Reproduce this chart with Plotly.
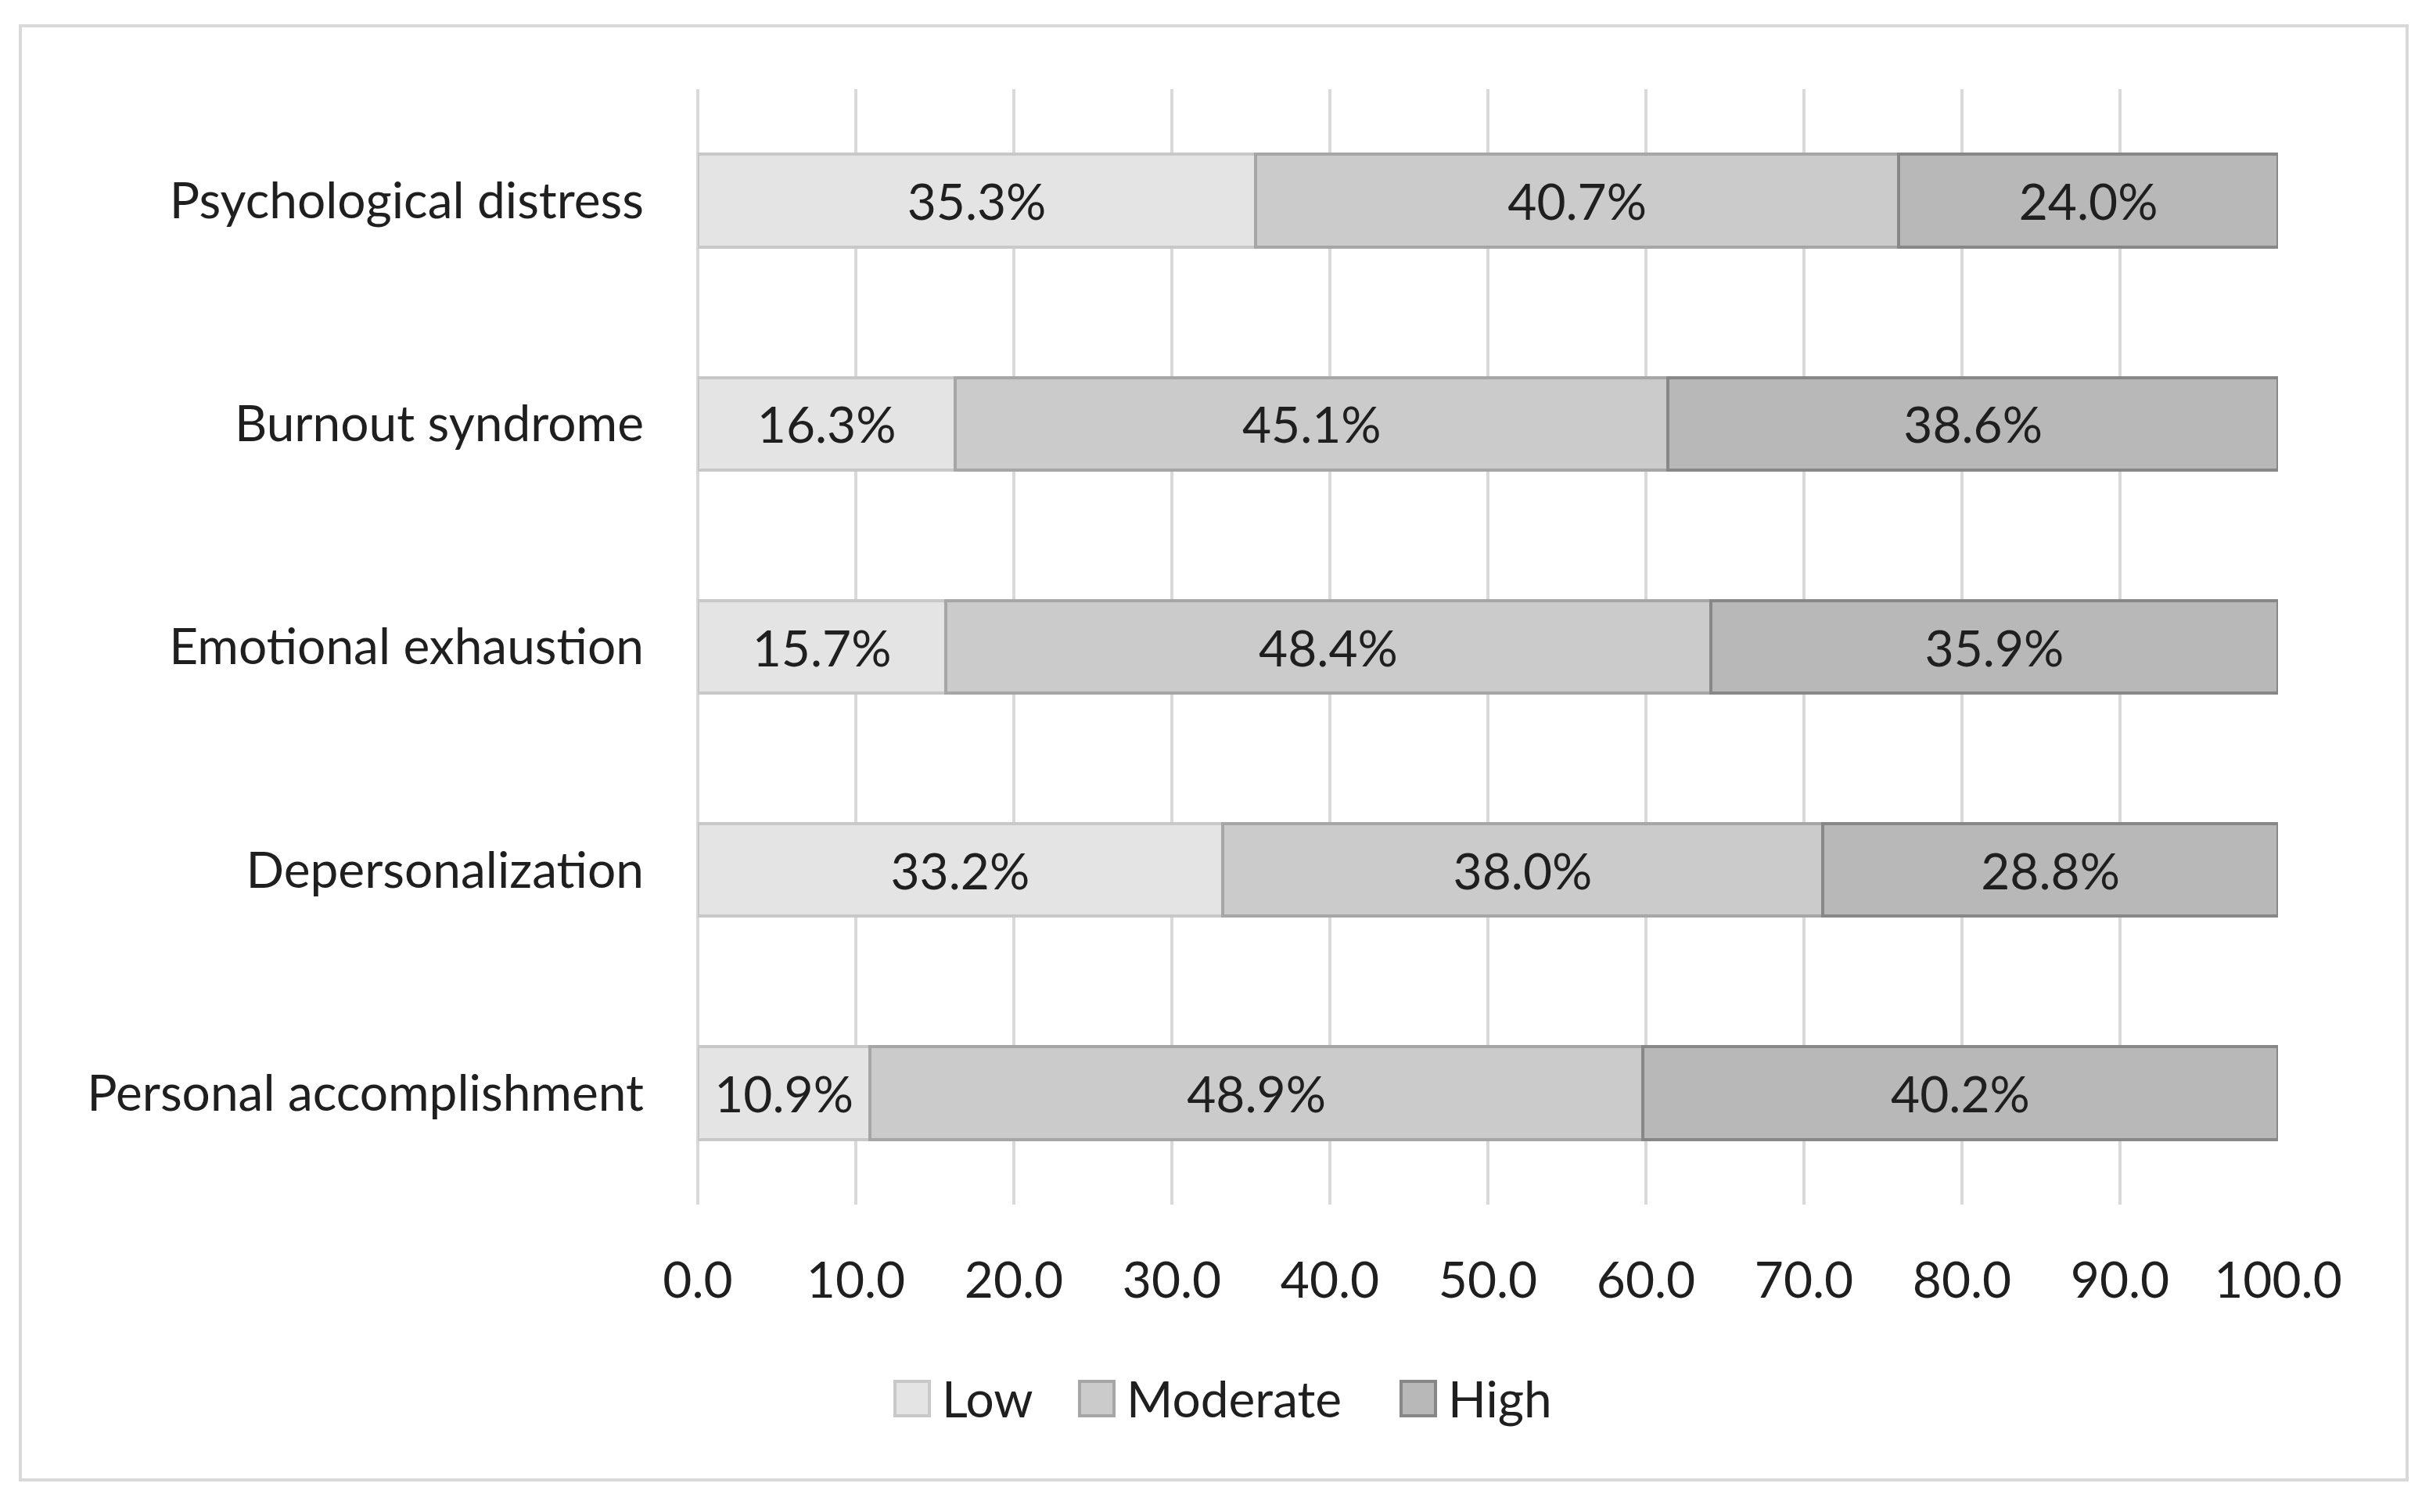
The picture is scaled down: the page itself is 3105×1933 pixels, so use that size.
import plotly.graph_objects as go

# data (percent)
categories = [
    "Psychological distress",
    "Burnout syndrome",
    "Emotional exhaustion",
    "Depersonalization",
    "Personal accomplishment",
]
low = [35.3, 16.3, 15.7, 33.2, 10.9]
moderate = [40.7, 45.1, 48.4, 38.0, 48.9]
high = [24.0, 38.6, 35.9, 28.8, 40.2]

series_names = ["Low", "Moderate", "High"]
fill_colors = ["#e4e4e4", "#cbcbcb", "#b8b8b8"]
line_colors = ["#c8c8c8", "#a6a6a6", "#878787"]

FONT = "Lato"
TXT = "#1f1f1f"
PAD = 8  # default body margin of the html page
W, H = 3105 - 2 * PAD, 1933 - 2 * PAD
# plot area in page pixels: x 892..2912, y 114..1540
L, T = 892 - PAD, 114 - PAD
R, B = W - (2912 - PAD), H - (1540 - PAD)


def px_x(x):
    return (x - PAD - L) / (W - L - R)


def px_y(y):
    return (H - B - (y - PAD)) / (H - T - B)


fig = go.Figure()
for name, vals, fc, lc in zip(series_names, [low, moderate, high], fill_colors, line_colors):
    fig.add_trace(
        go.Bar(
            name=name,
            y=categories,
            x=vals,
            orientation="h",
            marker=dict(color=fc, line=dict(color=lc, width=4)),
            texttemplate="%{x:.1f}%",
            textposition="inside",
            insidetextanchor="middle",
            textangle=0,
            textfont=dict(family=FONT, size=64, color=TXT),
            showlegend=False,
        )
    )

fig.update_layout(
    width=W,
    height=H,
    barmode="stack",
    bargap=0.585,
    margin=dict(l=L, r=R, t=T, b=B),
    paper_bgcolor="white",
    plot_bgcolor="white",
    font=dict(family=FONT, size=64, color=TXT),
    uniformtext=dict(minsize=64, mode="show"),
)
fig.update_xaxes(
    range=[0, 100],
    dtick=10,
    tickformat=".1f",
    showgrid=True,
    gridcolor="#d9d9d9",
    gridwidth=4,
    zeroline=True,
    zerolinecolor="#d9d9d9",
    zerolinewidth=4,
    showline=False,
    ticks="",
    ticklabelstandoff=54,
    tickfont=dict(family=FONT, size=64, color=TXT),
)
fig.update_yaxes(
    categoryorder="array",
    categoryarray=categories,
    autorange="reversed",
    showgrid=False,
    showline=False,
    ticks="",
    ticklabelstandoff=68,
    tickfont=dict(family=FONT, size=64, color=TXT),
)

# outer chart border
fig.add_shape(
    type="rect", xref="paper", yref="paper",
    x0=px_x(26), x1=px_x(3077), y0=px_y(1892), y1=px_y(33),
    line=dict(color="#d9d9d9", width=4), fillcolor="rgba(0,0,0,0)", layer="below",
)

# legend drawn below the axis, like the original
legend_boxes = [1144, 1380, 1791]
for name, fc, lc, x0 in zip(series_names, fill_colors, line_colors, legend_boxes):
    fig.add_shape(
        type="rect", xref="paper", yref="paper",
        x0=px_x(x0), x1=px_x(x0 + 44), y0=px_y(1810), y1=px_y(1766),
        fillcolor=fc, line=dict(color=lc, width=4),
    )
    fig.add_annotation(
        xref="paper", yref="paper", x=px_x(x0 + 58), y=px_y(1788),
        xanchor="left", yanchor="middle", text=name, showarrow=False,
        font=dict(family=FONT, size=64, color=TXT),
    )

fig.write_html("out.html")
